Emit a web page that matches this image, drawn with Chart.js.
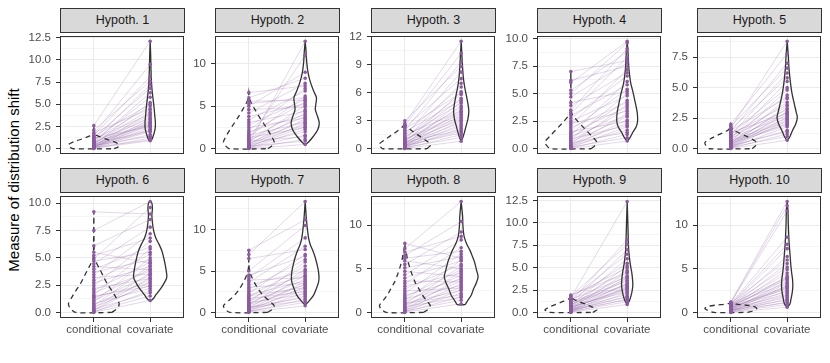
<!DOCTYPE html>
<html>
<head>
<meta charset="utf-8">
<script src="https://cdn.jsdelivr.net/npm/chart.js@4.4.1/dist/chart.umd.min.js"></script>
<style>
  body { margin: 0; background: #fff; }
  #wrap { position: relative; width: 830px; height: 363px; background: #fff; overflow: hidden;
          font-family: 'Liberation Sans', Arial, Helvetica, sans-serif; }
  .strip { position: absolute; box-sizing: border-box; height: 25px; background: #d9d9d9;
           border: 1px solid #333; color: #1a1a1a; font-size: 12.5px; text-align: center; line-height: 23px; }
  .holder { position: absolute; }
  #ytitle { position: absolute; left: 13px; top: 180px; transform: translate(-50%, -50%) rotate(-90deg);
            white-space: nowrap; font-size: 15px; color: #000; }
</style>
</head>
<body>
<div id="wrap">
  <div id="ytitle">Measure of distribution shift</div>
</div>
<script>
// --- data ---
const groups = ['conditional', 'covariate'];
const panelTitles = ['Hypoth. 1', 'Hypoth. 2', 'Hypoth. 3', 'Hypoth. 4', 'Hypoth. 5',
                     'Hypoth. 6', 'Hypoth. 7', 'Hypoth. 8', 'Hypoth. 9', 'Hypoth. 10'];

const yTickLabels = [
  ['0.0', '2.5', '5.0', '7.5', '10.0', '12.5'],
  ['0', '5', '10'],
  ['0', '3', '6', '9', '12'],
  ['0.0', '2.5', '5.0', '7.5', '10.0'],
  ['0.0', '2.5', '5.0', '7.5'],
  ['0.0', '2.5', '5.0', '7.5', '10.0'],
  ['0', '5', '10'],
  ['0', '5', '10'],
  ['0.0', '2.5', '5.0', '7.5', '10.0', '12.5'],
  ['0', '5', '10']
];

// paired measurements: conditional[k] <-> covariate[k]
const condValues = [
  [0.02,0.05,0.08,0.1,0.12,0.15,0.18,0.2,0.22,0.25,0.28,0.3,0.33,0.36,0.4,0.43,0.47,0.5,0.55,0.6,0.65,0.7,0.75,0.8,0.88,0.95,1.0,1.1,1.2,1.3,1.4,1.5,1.65,1.8,2.1,2.6],
  [0.02,0.05,0.1,0.14,0.2,0.25,0.3,0.38,0.45,0.5,0.6,0.7,0.8,0.9,1.0,1.15,1.3,1.45,1.6,1.8,2.0,2.2,2.5,2.8,3.1,3.4,3.8,4.2,4.6,5.0,5.3,5.6,6.0,0.55,1.1,6.6],
  [0.02,0.05,0.08,0.12,0.15,0.2,0.24,0.28,0.32,0.36,0.4,0.45,0.5,0.55,0.6,0.66,0.72,0.8,0.88,0.95,1.05,1.15,1.25,1.35,1.5,1.65,1.8,1.95,2.1,2.3,2.5,2.7,0.35,0.7,1.0,3.0],
  [0.02,0.05,0.1,0.15,0.2,0.25,0.3,0.38,0.45,0.52,0.6,0.7,0.8,0.9,1.0,1.12,1.25,1.4,1.55,1.7,1.9,2.1,2.3,2.5,2.75,3.0,3.2,3.5,3.9,4.2,4.7,5.0,5.3,6.0,6.2,7.0],
  [0.02,0.04,0.07,0.1,0.13,0.16,0.2,0.23,0.27,0.3,0.34,0.38,0.42,0.46,0.5,0.55,0.6,0.65,0.7,0.76,0.82,0.88,0.95,1.02,1.1,1.18,1.26,1.34,1.42,1.5,1.6,1.7,1.85,2.0,0.25,0.58],
  [0.02,0.05,0.1,0.16,0.22,0.3,0.4,0.5,0.6,0.7,0.82,0.95,1.1,1.25,1.4,1.6,1.8,2.0,2.2,2.45,2.7,2.95,3.2,3.45,3.7,3.95,4.2,4.45,4.7,4.9,5.2,5.5,6.1,7.5,9.2,1.5],
  [0.02,0.05,0.1,0.15,0.22,0.3,0.38,0.46,0.55,0.65,0.75,0.86,0.98,1.1,1.25,1.4,1.55,1.7,1.9,2.1,2.3,2.55,2.8,3.05,3.3,3.6,3.9,4.2,4.5,5.0,6.5,7.0,7.5,0.6,1.2,2.0],
  [0.02,0.05,0.1,0.16,0.22,0.3,0.38,0.47,0.57,0.68,0.8,0.93,1.07,1.22,1.38,1.55,1.75,1.95,2.2,2.45,2.7,3.0,3.3,3.6,3.95,4.3,4.7,5.1,5.5,5.9,6.2,6.5,6.9,7.3,7.9,1.0],
  [0.02,0.04,0.07,0.1,0.13,0.16,0.2,0.24,0.28,0.32,0.36,0.4,0.45,0.5,0.55,0.6,0.66,0.72,0.78,0.85,0.92,1.0,1.08,1.16,1.25,1.35,1.45,1.55,1.65,1.75,1.85,1.95,0.3,0.52,0.8,1.1],
  [0.02,0.04,0.06,0.09,0.12,0.15,0.18,0.21,0.25,0.28,0.32,0.36,0.4,0.44,0.48,0.52,0.56,0.6,0.64,0.68,0.72,0.76,0.8,0.84,0.88,0.92,0.96,1.0,1.05,1.1,1.15,1.2,0.3,0.5,0.7,0.95]
];
const covValues = [
  [1.2,0.9,2.1,1.6,2.8,1.0,3.3,2.4,1.9,3.0,2.2,4.1,2.6,1.4,3.6,2.9,5.2,3.1,2.0,4.4,3.8,6.3,2.7,3.4,5.8,4.8,7.2,3.9,2.5,6.8,5.0,8.1,9.5,4.5,7.6,12.1],
  [0.5,1.1,2.3,1.6,3.0,2.6,0.9,3.5,2.0,4.2,2.8,3.3,5.1,1.4,3.8,4.6,2.5,6.2,3.1,5.5,4.0,7.1,3.6,5.8,4.4,6.8,5.3,7.7,4.9,9.0,6.0,5.7,8.3,12.65,11.0,7.4],
  [0.8,1.5,2.2,1.2,3.0,2.6,1.9,3.6,4.2,2.4,3.3,5.0,2.8,4.6,3.9,6.1,3.1,5.4,4.4,7.0,3.7,5.8,4.9,8.2,4.0,6.6,5.2,9.3,6.0,7.5,10.2,11.5,1.7,2.0,3.4,8.8],
  [0.7,1.3,2.0,1.0,2.6,1.7,3.2,2.3,4.0,1.5,2.9,3.6,5.0,2.1,4.4,3.0,6.1,3.8,2.5,5.4,4.2,7.2,3.4,4.8,6.6,5.8,8.3,9.1,6.9,5.2,7.8,9.6,8.8,9.75,7.5,8.0],
  [0.7,1.2,1.8,2.3,1.0,2.6,1.5,3.0,2.1,3.5,2.4,2.8,4.1,1.9,3.3,2.5,4.8,3.0,2.2,3.8,5.5,2.7,4.4,3.2,6.2,3.6,5.0,2.9,7.0,4.2,5.8,8.8,6.6,7.8,1.4,2.0],
  [1.1,2.0,1.5,2.8,3.2,1.8,3.6,2.5,4.3,3.0,2.2,5.0,3.4,4.0,2.7,5.8,3.8,4.6,3.1,6.5,4.2,5.3,3.5,7.2,4.8,6.0,3.9,7.8,5.5,9.6,6.8,4.5,8.5,10.15,9.0,2.4],
  [0.8,1.6,2.4,1.2,3.1,2.0,3.7,2.7,4.5,1.8,3.4,5.2,2.9,4.0,6.1,3.3,4.8,2.5,5.6,3.8,7.0,4.4,6.4,3.5,5.0,8.0,4.2,9.0,6.8,10.5,7.6,13.4,11.2,1.4,2.2,3.0],
  [1.0,1.8,2.6,1.4,3.3,2.2,4.0,2.9,4.7,1.7,3.6,5.3,2.5,4.3,6.0,3.1,4.9,3.8,6.7,2.8,5.5,4.5,7.4,3.5,5.9,8.3,4.1,6.4,9.2,5.0,7.0,10.4,8.7,12.7,6.2,2.0],
  [0.9,1.5,2.2,1.2,2.8,1.8,3.3,2.5,1.4,3.9,2.9,2.0,4.5,3.2,2.6,5.2,3.6,2.3,6.0,4.1,3.0,7.0,4.7,3.5,8.1,5.5,4.0,6.5,12.4,7.6,5.0,4.4,1.7,2.7,3.8,3.1],
  [0.6,1.2,1.9,0.9,2.5,1.5,3.1,2.2,1.1,3.6,2.8,1.7,4.2,3.3,2.0,4.9,3.0,2.4,5.6,3.8,2.7,6.4,4.5,3.4,7.3,5.2,4.0,8.6,6.0,11.6,12.2,12.7,1.4,2.9,3.9,7.8]
];

// violin outlines: [value, half width in group units]
const condViolin = [
  [[0,0.36],[0.2,0.43],[0.45,0.45],[0.8,0.35],[1.1,0.21],[1.4,0.09],[1.6,0.02],[2.0,0.006],[2.6,0]],
  [[0,0.34],[0.4,0.42],[0.8,0.45],[1.5,0.40],[2.2,0.34],[3.0,0.26],[3.8,0.18],[4.6,0.11],[5.3,0.05],[5.9,0.012],[6.6,0]],
  [[0,0.39],[0.2,0.43],[0.45,0.46],[0.9,0.37],[1.4,0.25],[1.9,0.13],[2.3,0.05],[2.6,0.012],[3.0,0]],
  [[0,0.36],[0.3,0.43],[0.6,0.46],[1.2,0.36],[1.9,0.23],[2.5,0.12],[3.0,0.04],[3.3,0.012],[4.0,0.005],[7.0,0]],
  [[0,0.38],[0.25,0.44],[0.5,0.46],[0.8,0.37],[1.1,0.24],[1.35,0.12],[1.55,0.04],[1.8,0.01],[2.0,0]],
  [[0,0.32],[0.4,0.42],[0.8,0.45],[1.3,0.4],[1.9,0.33],[2.6,0.24],[3.3,0.17],[4.0,0.1],[4.6,0.04],[5.0,0.012],[6.0,0.005],[9.2,0]],
  [[0,0.33],[0.4,0.42],[0.8,0.45],[1.4,0.36],[2.1,0.25],[2.9,0.16],[3.6,0.1],[4.3,0.05],[5.0,0.015],[5.5,0.005],[7.5,0]],
  [[0,0.33],[0.4,0.42],[0.8,0.45],[1.4,0.38],[2.0,0.31],[2.7,0.25],[3.5,0.18],[4.5,0.12],[5.3,0.08],[6.0,0.05],[6.7,0.03],[7.3,0.01],[7.9,0]],
  [[0,0.39],[0.15,0.43],[0.3,0.46],[0.6,0.38],[0.9,0.27],[1.2,0.15],[1.5,0.04],[1.7,0.012],[1.95,0]],
  [[0,0.3],[0.2,0.4],[0.45,0.46],[0.7,0.4],[0.85,0.25],[0.95,0.1],[1.05,0.03],[1.2,0]]
];
const covViolin = [
  [[0.85,0],[1.0,0.027],[1.6,0.062],[2.3,0.089],[3.0,0.092],[3.8,0.08],[4.5,0.071],[5.5,0.053],[6.5,0.035],[7.5,0.023],[9,0.014],[10.5,0.009],[12.1,0]],
  [[0.45,0],[0.8,0.06],[1.5,0.15],[2.2,0.22],[3.0,0.25],[3.8,0.22],[4.6,0.18],[5.3,0.19],[6.0,0.2],[6.8,0.15],[7.9,0.09],[9.0,0.05],[10.2,0.027],[11.5,0.015],[12.65,0]],
  [[0.8,0],[1.2,0.03],[1.8,0.06],[2.5,0.09],[3.2,0.12],[4.0,0.135],[4.8,0.12],[5.6,0.095],[6.5,0.065],[7.5,0.04],[8.7,0.025],[10,0.013],[11.5,0]],
  [[0.65,0],[1.0,0.05],[1.5,0.1],[2.0,0.16],[2.5,0.185],[3.2,0.18],[3.8,0.16],[4.5,0.13],[5.2,0.1],[5.9,0.065],[6.6,0.045],[7.3,0.03],[8.5,0.018],[9.75,0]],
  [[0.65,0],[1.0,0.05],[1.5,0.095],[2.0,0.15],[2.55,0.18],[3.0,0.16],[3.6,0.13],[4.6,0.083],[5.6,0.053],[6.6,0.032],[7.6,0.02],[8.8,0]],
  [[1.0,0],[1.3,0.06],[1.6,0.1],[2.2,0.19],[2.7,0.25],[3.2,0.295],[3.8,0.285],[4.4,0.265],[5.0,0.24],[5.6,0.21],[6.2,0.16],[6.8,0.1],[7.5,0.06],[8.2,0.04],[8.9,0.03],[9.5,0.04],[10.0,0.03],[10.15,0]],
  [[0.9,0],[1.4,0.07],[2.1,0.15],[2.9,0.2],[3.6,0.235],[4.2,0.245],[5.0,0.235],[5.8,0.21],[6.6,0.18],[7.4,0.14],[8.2,0.09],[9.0,0.06],[10.0,0.04],[11.4,0.02],[13.4,0]],
  [[0.9,0.07],[1.3,0.11],[2.0,0.18],[2.7,0.22],[3.4,0.27],[4.1,0.3],[4.9,0.27],[5.7,0.24],[6.4,0.2],[7.1,0.156],[7.8,0.1],[8.5,0.06],[9.0,0.044],[10.0,0.03],[11.0,0.025],[12.7,0]],
  [[0.9,0],[1.3,0.04],[1.9,0.07],[2.5,0.09],[3.0,0.1],[3.7,0.095],[4.5,0.08],[5.2,0.06],[5.9,0.044],[7.0,0.027],[8.5,0.018],[10,0.012],[12.4,0]],
  [[0.55,0],[1.0,0.05],[1.6,0.07],[2.3,0.09],[3.0,0.1],[3.8,0.095],[4.5,0.08],[5.4,0.065],[6.4,0.053],[7.9,0.035],[10.1,0.02],[11.5,0.015],[12.7,0]]
];

// --- layout ---
const colLeft = [60, 215, 371, 537, 697];
const rowTop = [32, 192];
const panelW = 124, panelH = 126, axisW = 40;
const fontFamily = "'Liberation Sans', Arial, Helvetica, sans-serif";
const purple = '#8b5a9f';
const lineColor = 'rgba(139, 90, 159, 0.3)';
const wrap = document.getElementById('wrap');

// ggplot-like panel border
const panelBorder = {
  id: 'panelBorder',
  afterDraw(chart) {
    const a = chart.chartArea, c = chart.ctx;
    c.save();
    c.strokeStyle = '#333';
    c.lineWidth = 1;
    c.strokeRect(Math.round(a.left) + 0.5, Math.round(a.top) + 0.5,
                 Math.round(a.right - a.left) - 1, Math.round(a.bottom - a.top) - 1);
    c.restore();
  }
};

function violinPath(center, shape) {
  const right = shape.map(p => ({ x: center + p[1], y: p[0] }));
  const left = shape.slice().reverse().map(p => ({ x: center - p[1], y: p[0] }));
  return right.concat(left, [right[0]]);
}

panelTitles.forEach((title, i) => {
  const row = Math.floor(i / 5), col = i % 5;
  const L = colLeft[col], T = rowTop[row];
  const bottomRow = row === 1;

  const strip = document.createElement('div');
  strip.className = 'strip';
  strip.style.left = L + 'px';
  strip.style.top = (T - 24) + 'px';
  strip.style.width = (panelW + 1) + 'px';
  strip.textContent = title;
  wrap.appendChild(strip);

  const holder = document.createElement('div');
  holder.className = 'holder';
  const cw = axisW + panelW + 6, ch = 8 + panelH + (bottomRow ? 26 : 8);
  holder.style.left = (L - axisW) + 'px';
  holder.style.top = (T - 8) + 'px';
  holder.style.width = cw + 'px';
  holder.style.height = ch + 'px';
  const canvas = document.createElement('canvas');
  canvas.width = cw;
  canvas.height = ch;
  holder.appendChild(canvas);
  wrap.appendChild(holder);

  const cond = condValues[i], cov = covValues[i];
  const top = Math.max(...cond, ...cov);
  const yMin = -0.05 * top, yMax = 1.05 * top;

  // major ticks with labels, minor ticks halfway between them
  const majors = yTickLabels[i].map(Number);
  const step = majors[1] - majors[0];
  const yTicks = majors.map((v, k) => ({ value: v, txt: yTickLabels[i][k], minor: false }));
  for (let v = majors[0] - step / 2; v <= yMax; v += step) {
    if (v >= yMin) yTicks.push({ value: v, txt: '', minor: true });
  }
  yTicks.sort((a, b) => a.value - b.value);

  const datasets = [];
  datasets.push({
    data: cond.map(v => ({ x: 1, y: v })).concat(cov.map(v => ({ x: 2, y: v }))),
    showLine: false, pointRadius: 1.8, pointBackgroundColor: purple, pointBorderWidth: 0, order: 0
  });
  datasets.push({
    data: violinPath(1, condViolin[i]), showLine: true, borderColor: '#333', borderWidth: 1.3,
    borderDash: [5, 4], pointRadius: 0, tension: 0.3, fill: false, order: 1
  });
  datasets.push({
    data: violinPath(2, covViolin[i]), showLine: true, borderColor: '#333', borderWidth: 1.3,
    pointRadius: 0, tension: 0.3, fill: false, order: 1
  });
  cond.forEach((v, k) => {
    datasets.push({
      data: [{ x: 1, y: v }, { x: 2, y: cov[k] }], showLine: true, borderColor: lineColor,
      borderWidth: 0.8, pointRadius: 0, order: 2
    });
  });

  new Chart(canvas, {
    type: 'scatter',
    data: { datasets: datasets },
    options: {
      responsive: false,
      animation: false,
      events: [],
      layout: { padding: { top: 8, left: 0, right: 6, bottom: bottomRow ? 0 : 8 } },
      plugins: { legend: { display: false }, tooltip: { enabled: false } },
      scales: {
        x: {
          type: 'linear', min: 0.4, max: 2.6,
          afterBuildTicks: s => { s.ticks = [{ value: 1 }, { value: 2 }]; },
          afterFit: s => { s.height = bottomRow ? 26 : 0; },
          ticks: {
            display: bottomRow, autoSkip: false, maxRotation: 0, padding: 1, color: '#4d4d4d',
            font: { size: 11.5, family: fontFamily }, callback: v => groups[v - 1]
          },
          grid: { color: '#ebebeb', lineWidth: 1, drawTicks: bottomRow, tickLength: 4, tickColor: '#333', tickWidth: 1 },
          border: { display: false }
        },
        y: {
          type: 'linear', min: yMin, max: yMax,
          afterBuildTicks: s => { s.ticks = yTicks.map(t => ({ value: t.value, txt: t.txt, minor: t.minor })); },
          afterFit: s => { s.width = axisW; },
          ticks: {
            autoSkip: false, padding: 5, color: '#4d4d4d', font: { size: 11.5, family: fontFamily },
            callback: (v, k, arr) => arr[k].txt
          },
          grid: {
            color: '#ebebeb',
            lineWidth: c => (c.tick && c.tick.minor ? 0.5 : 1),
            tickLength: 4,
            tickWidth: 1,
            tickColor: c => (c.tick && c.tick.minor ? 'rgba(0,0,0,0)' : '#333')
          },
          border: { display: false }
        }
      }
    },
    plugins: [panelBorder]
  });
});
</script>
</body>
</html>
